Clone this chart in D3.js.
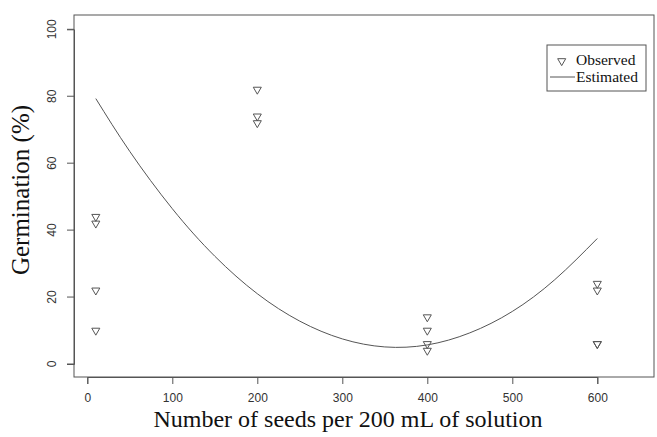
<!DOCTYPE html>
<html><head><meta charset="utf-8">
<script src="https://cdn.jsdelivr.net/npm/d3@7"></script>
<style>body{margin:0;background:#fff}svg{display:block}</style>
</head><body>
<script>
// ---- data ----
const obsX = [10,10,10,10, 200,200,200, 400,400,400,400, 600,600,600,600];
const obsY = [44,42,22,10, 82,74,72, 14,10,6,4, 24,22,6,6];
const estX = [10,50,100,150,200,250,300,350,400,450,500,550,600];
const estY = [79.3,63.5,46.4,32.2,21.0,12.8,7.5,5.1,5.7,9.3,15.7,25.2,37.5];
const xTicks = [0,100,200,300,400,500,600];
const yTicks = [0,20,40,60,80,100];
const legendLabels = ["Observed","Estimated"];

const W=657,H=437;
const box={l:74,t:15,r:654,b:377};
const svg=d3.select("body").append("svg").attr("width",W).attr("height",H);
const x=d3.scaleLinear().domain([0,600]).range([87.3,597.3]);
const y=d3.scaleLinear().domain([0,100]).range([364,29.3]);
const col="#555";

svg.append("rect").attr("x",box.l).attr("y",box.t).attr("width",box.r-box.l).attr("height",box.b-box.t)
  .attr("fill","none").attr("stroke",col).attr("stroke-width",1);

const xa=svg.append("g").attr("transform",`translate(0,${box.b})`)
  .call(d3.axisBottom(x).tickValues(xTicks).tickSize(7).tickPadding(9).tickFormat(d3.format("d")));
const ya=svg.append("g").attr("transform",`translate(${box.l},0)`)
  .call(d3.axisLeft(y).tickValues(yTicks).tickSize(7).tickPadding(10).tickFormat(d3.format("d")));
[xa,ya].forEach(g=>{
  g.select(".domain").attr("stroke",col);
  g.selectAll(".tick line").attr("stroke",col);
  g.selectAll("text").attr("font-family","Liberation Sans, Arial, sans-serif").attr("font-size",12).attr("fill","#333");
});
ya.selectAll(".tick text").each(function(d){
  d3.select(this).attr("transform",`translate(-22,${y(d)}) rotate(-90)`)
    .attr("x",0).attr("y",0).attr("dy","0.35em").attr("text-anchor","middle");
});
ya.selectAll(".tick").attr("transform",null);
ya.selectAll(".tick line").each(function(d){d3.select(this).attr("y1",y(d)).attr("y2",y(d));});

const line=d3.line().x((d,i)=>x(estX[i])).y((d,i)=>y(estY[i])).curve(d3.curveNatural);
svg.append("path").attr("d",line(estX)).attr("fill","none").attr("stroke",col).attr("stroke-width",1);

const tri=d3.symbol().type(d3.symbolTriangle).size(28);
svg.selectAll(".pt").data(obsX).join("path")
  .attr("d",tri).attr("transform",(d,i)=>`translate(${x(d)},${y(obsY[i])}) rotate(180)`)
  .attr("fill","none").attr("stroke",col).attr("stroke-width",1);

svg.append("text").attr("x",348).attr("y",427).attr("text-anchor","middle")
  .attr("font-family","Liberation Serif, Times New Roman, serif").attr("font-size",24).attr("fill","#111")
  .text("Number of seeds per 200 mL of solution");
svg.append("text").attr("transform","translate(29,190) rotate(-90)").attr("text-anchor","middle")
  .attr("font-family","Liberation Serif, Times New Roman, serif").attr("font-size",25).attr("fill","#111")
  .text("Germination (%)");

// legend
const lg=svg.append("g");
lg.append("rect").attr("x",547).attr("y",45).attr("width",99).attr("height",46)
  .attr("fill","#fff").attr("stroke",col);
lg.append("path").attr("d",tri).attr("transform","translate(561.7,61) rotate(180)")
  .attr("fill","none").attr("stroke",col);
lg.append("line").attr("x1",550).attr("x2",575).attr("y1",77).attr("y2",77).attr("stroke",col);
lg.selectAll(".lt").data(legendLabels).join("text")
  .attr("x",576).attr("y",(d,i)=>60+i*17).attr("dy","0.35em")
  .attr("font-family","Liberation Serif, Times New Roman, serif").attr("font-size",15.5).attr("fill","#111")
  .text(d=>d);
</script>
</body></html>
